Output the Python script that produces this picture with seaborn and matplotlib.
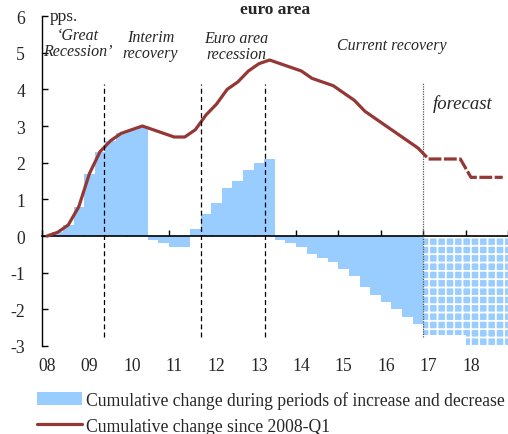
import matplotlib
matplotlib.use("Agg")
import matplotlib.pyplot as plt
import numpy as np
import pandas as pd
import seaborn as sns
from matplotlib.lines import Line2D
from matplotlib.patches import Patch

# quarterly axis, 2008-Q1 .. 2018-Q4
years = list(range(2008, 2019))
quarters = [f"{y}-Q{q}" for y in years for q in range(1, 5)]
year_labels = [f"{y % 100:02d}" for y in years]

# cumulative change within each period (bars), actual data up to 2016-Q4
bar_vals = [0.0, 0.1, 0.3, 0.8, 1.7, 2.3, 2.6, 2.8, 2.9, 3.0,
            -0.1, -0.2, -0.3, -0.3,
            0.2, 0.6, 0.9, 1.3, 1.5, 1.8, 2.0, 2.1,
            -0.1, -0.2, -0.3, -0.5, -0.6, -0.7, -0.9, -1.1, -1.4, -1.6,
            -1.8, -2.0, -2.2, -2.4]
# forecast part of the bars, 2017-Q1 .. 2018-Q4
fc_bar_vals = [-2.7, -2.7, -2.7, -2.7, -3.2, -3.2, -3.2, -3.2]

# cumulative change since 2008-Q1 (line)
line_vals = [0.0, 0.1, 0.3, 0.8, 1.7, 2.3, 2.6, 2.8, 2.9, 3.0,
             2.9, 2.8, 2.7, 2.7, 2.9, 3.3, 3.6, 4.0, 4.2, 4.5,
             4.7, 4.8, 4.7, 4.6, 4.5, 4.3, 4.2, 4.1, 3.9, 3.7,
             3.4, 3.2, 3.0, 2.8, 2.6, 2.4]
fc_line_vals = [2.4, 2.1, 2.1, 2.1, 2.1, 1.6, 1.6, 1.6, 1.6]

period_breaks = [5.4, 14.5, 20.6]
forecast_break = 35.5
period_names = ["\u2018Great\nRecession\u2019", "Interim\nrecovery",
                "Euro area\nrecession", "Current recovery"]
period_name_x = [2.93, 9.76, 17.86, 32.5]
period_name_y = [5.26, 5.21, 5.18, 5.2]

BLUE = "#99CCFF"
RED = "#953735"

sns.set_theme(style="white")
plt.rcParams["font.family"] = ["Liberation Serif", "DejaVu Serif"]
plt.rcParams["axes.unicode_minus"] = False
plt.rcParams["hatch.linewidth"] = 1.3

n_act = len(bar_vals)
df_bar = pd.DataFrame({"pos": np.arange(n_act), "val": bar_vals})
df_fc = pd.DataFrame({"pos": np.arange(n_act, n_act + len(fc_bar_vals)), "val": fc_bar_vals})

fig = plt.figure(figsize=(5.08, 4.35), dpi=100)
ax = fig.add_axes([0.0821, 0.2023, 0.918, 0.7586])

sns.barplot(data=df_bar, x="pos", y="val", native_scale=True, width=1.0,
            color=BLUE, saturation=1, linewidth=0, ax=ax)
n_before = len(ax.patches)
sns.barplot(data=df_fc, x="pos", y="val", native_scale=True, width=1.0,
            color=BLUE, saturation=1, linewidth=0, ax=ax)
for p in ax.patches[n_before:]:
    p.set_edgecolor("white")
    p.set_linewidth(0)
    p.set_hatch("++")

sns.lineplot(x=np.arange(n_act), y=line_vals, color=RED, lw=2.3, ax=ax,
             zorder=5)
sns.lineplot(x=np.arange(n_act - 1, n_act - 1 + len(fc_line_vals)), y=fc_line_vals,
             color=RED, lw=2.3, linestyle=(0, (4, 0.8)), ax=ax, zorder=5)

ax.vlines(period_breaks, -2.75, 4.15, colors="black", lw=0.9,
          linestyles=(0, (4, 2.5)), zorder=6)
ax.vlines([forecast_break], -2.76, 4.19, colors="#555555", lw=0.9,
          linestyles=(0, (1, 1)), zorder=6)

for name, x, y in zip(period_names, period_name_x, period_name_y):
    ax.text(x, y, name, ha="center", va="center", style="italic",
            fontsize=11.5, linespacing=1.0)
ax.text(39.2, 3.62, "forecast", ha="center", va="center", style="italic",
        fontsize=13.5)
ax.text(0.3, 6.0, "pps.", ha="left", va="center", fontsize=12.5)

ax.set_xlim(-0.5, len(quarters) - 0.5)
ax.set_ylim(-3, 6)
ax.set_yticks(range(-3, 7))
ax.set_xlabel("")
ax.set_ylabel("")

# year boundaries as ticks on the zero line, labels at the first quarter
ax.set_xticks(np.arange(-0.5, len(quarters), 4), [""] * (len(years) + 1))
ax.set_xticks(np.arange(0, len(quarters), 4), year_labels, minor=True)
ax.tick_params(axis="x", which="major", direction="in", length=4, width=1,
               color="black")
ax.tick_params(axis="x", which="minor", length=0, pad=87, labelsize=12.7)
ax.tick_params(axis="y", direction="in", length=4, width=1, color="black",
               labelsize=12.7, pad=12)
ax.tick_params(left=True, bottom=True)

for s in ["top", "right"]:
    ax.spines[s].set_visible(False)
ax.spines["bottom"].set_position(("data", 0))
ax.spines["bottom"].set_color("black")
ax.spines["left"].set_color("black")
ax.spines["bottom"].set_linewidth(1.2)
ax.spines["left"].set_linewidth(1.0)

fig.text(0.542, 0.968, "euro area", ha="center", va="baseline",
         fontweight="bold", fontsize=12.5)

handles = [Patch(facecolor=BLUE, edgecolor="none"),
           Line2D([], [], color=RED, lw=2.3)]
labels = ["Cumulative change during periods of increase and decrease",
          "Cumulative change since 2008-Q1"]
fig.legend(handles, labels, loc="upper left", bbox_to_anchor=(0.0728, 0.099),
           frameon=False, fontsize=12.7, handlelength=2.55, handletextpad=0.25,
           labelspacing=0.5, borderpad=0, borderaxespad=0)

fig.savefig("out.png", dpi=100)
